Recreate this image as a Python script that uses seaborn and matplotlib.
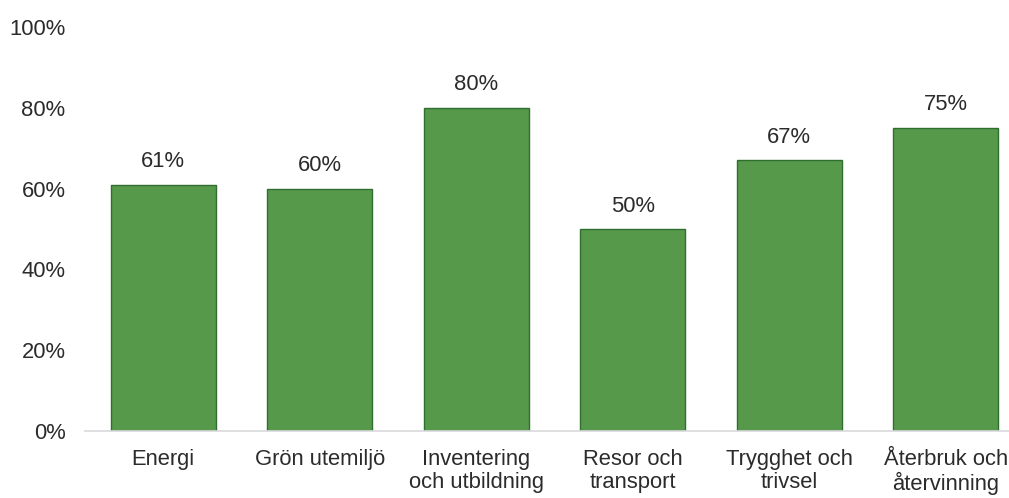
import matplotlib
matplotlib.use("Agg")
import matplotlib.pyplot as plt
import seaborn as sns
import pandas as pd

categories = ["Energi", "Grön utemiljö", "Inventering\noch utbildning", "Resor och\ntransport",
              "Trygghet och\ntrivsel", "Återbruk och\nåtervinning"]
values = [61, 60, 80, 50, 67, 75]
yticks = [0, 20, 40, 60, 80, 100]

sns.set_theme(style="white")
plt.rcParams['font.family'] = ['Liberation Sans', 'DejaVu Sans']

df = pd.DataFrame({"cat": categories, "val": values})

fig = plt.figure(figsize=(10.09, 4.98), dpi=100)
ax = fig.add_axes([85/1009, 67/498, 939/1009, (431-27)/498])

sns.barplot(data=df, x="cat", y="val", color="#56994b", saturation=1, width=0.67,
            edgecolor="#2f6e2f", linewidth=1.0, ax=ax)

for i, v in enumerate(values):
    ax.annotate(f"{v}%", (i, v), xytext=(0, 9), textcoords="offset points",
                ha="center", va="bottom", fontsize=15.8, color="#2b2b2b")

ax.set_ylim(0, 100)
ax.set_xlim(-0.5, 5.5)
ax.set_yticks(yticks)
ax.set_yticklabels([f"{t}%" for t in yticks], fontsize=15.8, color="#2b2b2b")
ax.tick_params(axis="y", length=0, pad=14)
ax.tick_params(axis="x", length=0, pad=13, labelsize=15.8, labelcolor="#2b2b2b")
for lbl in ax.get_xticklabels():
    lbl.set_linespacing(1.12)
ax.set_xlabel("")
ax.set_ylabel("")
for s in ["top", "right", "left"]:
    ax.spines[s].set_visible(False)
ax.spines["bottom"].set_color("#d9d9dd")
ax.spines["bottom"].set_linewidth(1.2)
ax.grid(False)

fig.savefig("out.png", dpi=100, facecolor="white")
